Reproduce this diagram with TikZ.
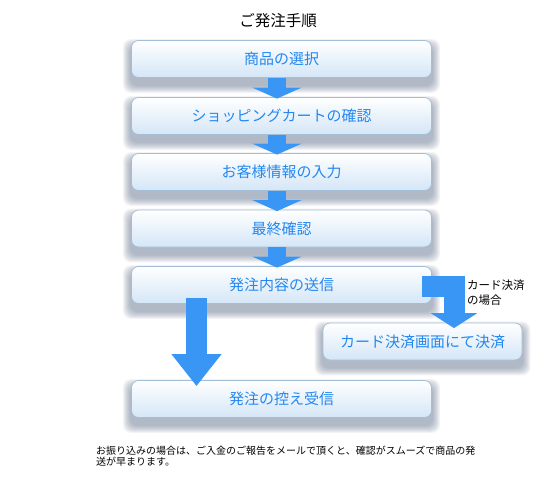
\documentclass[tikz,border=0pt]{standalone}
\usepackage{fontspec}
\setmainfont{Noto Sans CJK JP}
\usetikzlibrary{arrows.meta,backgrounds,calc}
\definecolor{txtblue}{RGB}{36,136,240}
\definecolor{arrblue}{RGB}{58,150,245}
\definecolor{boxbot}{RGB}{212,230,247}
\definecolor{boxline}{RGB}{165,190,215}
\definecolor{shadowcol}{RGB}{105,125,150}
\tikzset{
  box/.style={draw=boxline, line width=0.8pt, rounded corners=7pt,
    top color=white, bottom color=boxbot, minimum height=37pt,
    text=txtblue, font=\fontsize{15}{18}\selectfont, inner sep=0pt},
  mainbox/.style={box, minimum width=300pt},
  smallarr/.style={draw=arrblue, line width=18pt, -{Triangle[width=49pt,length=11pt]}, arrblue},
  bigarr/.style={draw=arrblue, line width=21pt, -{Triangle[width=48pt,length=32pt]}, arrblue},
  cardarr/.style={draw=arrblue, line width=21pt, line join=miter, -{Triangle[width=46pt,length=15pt]}, arrblue},
  shadowlayer/.style={fill=shadowcol, opacity=0.085},
}
\newcommand{\softshadow}[1]{%
  \foreach \i in {0,...,7} {%
    \pgfmathsetmacro{\e}{8-\i}%
    \fill[shadowlayer, rounded corners=8pt]
      ([xshift=-\e pt, yshift={-7pt-\e pt}]#1.south west) rectangle
      ([xshift=\e pt, yshift={-7pt+\e pt}]#1.north east);
  }}
\begin{document}
\begin{tikzpicture}
\useasboundingbox (0pt,0pt) rectangle (560pt,-500pt);
\node[font=\fontsize{15.5}{18}\selectfont] (title) at (278pt,-21pt) {ご発注手順};
\node[mainbox] (b1) at (281.5pt,-59pt) {商品の選択};
\node[mainbox] (b2) at (281.5pt,-116pt) {ショッピングカートの確認};
\node[mainbox] (b3) at (281.5pt,-172pt) {お客様情報の入力};
\node[mainbox] (b4) at (281.5pt,-228.5pt) {最終確認};
\node[mainbox] (b5) at (281.5pt,-285pt) {発注内容の送信};
\node[box, minimum width=199pt] (b6) at (422.5pt,-341.5pt) {カード決済画面にて決済};
\node[mainbox] (b7) at (281.5pt,-399pt) {発注の控え受信};
\begin{scope}[on background layer]
  \fill[white] (0pt,0pt) rectangle (560pt,-500pt);
  \softshadow{b1}\softshadow{b2}\softshadow{b3}\softshadow{b4}
  \softshadow{b5}\softshadow{b6}\softshadow{b7}
\end{scope}
\draw[smallarr] ([xshift=-4.5pt]b1.south) -- ([xshift=-4.5pt,yshift=-1.5pt]b2.north);
\draw[smallarr] ([xshift=-4.5pt]b2.south) -- ([xshift=-4.5pt,yshift=-1.5pt]b3.north);
\draw[smallarr] ([xshift=-4.5pt]b3.south) -- ([xshift=-4.5pt,yshift=-1.5pt]b4.north);
\draw[smallarr] ([xshift=-4.5pt]b4.south) -- ([xshift=-4.5pt,yshift=-1.5pt]b5.north);
\draw[bigarr] ([xshift=-85pt,yshift=6pt]b5.south) -- ([xshift=-85pt,yshift=-6pt]b7.north);
\draw[cardarr] ([xshift=-9.5pt,yshift=-1.5pt]b5.east) -| ([xshift=31.5pt,yshift=-5.5pt]b6.north);
\node[anchor=north west, align=left, inner sep=0pt, font=\fontsize{11.5}{14.5}\selectfont] (lbl) at (467pt,-280pt) {カード決済\\の場合};
\node[anchor=north west, align=left, inner sep=0pt, font=\fontsize{10}{10.5}\selectfont] (note) at (96pt,-446pt) {お振り込みの場合は、ご入金のご報告をメールで頂くと、確認がスムーズで商品の発\\送が早まります。};
\end{tikzpicture}
\end{document}
